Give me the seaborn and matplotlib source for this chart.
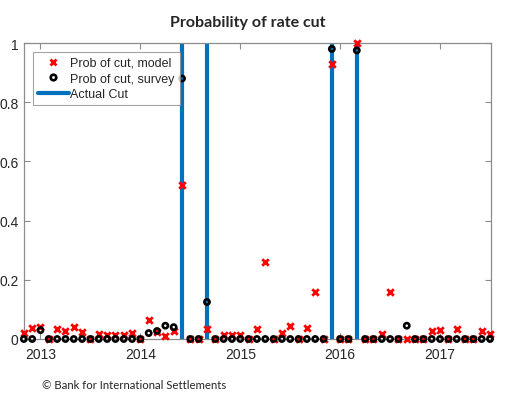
import matplotlib
matplotlib.use("Agg")
import matplotlib.pyplot as plt
import seaborn as sns
import pandas as pd
import numpy as np
from matplotlib.lines import Line2D

# Monthly observations, Nov 2012 .. Jul 2017
months = pd.date_range("2012-11-01", "2017-07-01", freq="MS")

model = [0.02, 0.037,                                     # Nov-Dec 2012
         0.04, 0.0, 0.033, 0.027, 0.04, 0.022, 0.0, 0.017, 0.012, 0.012, 0.012, 0.02,   # 2013
         0.0, 0.065, 0.022, 0.011, 0.028, 0.52, 0.0, 0.0, 0.035, 0.0, 0.015, 0.015,     # 2014
         0.015, 0.0, 0.035, 0.26, 0.0, 0.02, 0.043, 0.0, 0.037, 0.16, 0.0, 0.93,        # 2015
         0.0, 0.0, 1.0, 0.0, 0.0, 0.018, 0.16, 0.0, 0.0, 0.0, 0.0, 0.028,               # 2016
         0.032, 0.0, 0.035, 0.0, 0.0, 0.026, 0.018]                                     # 2017

survey = [0.0, 0.0,
          0.03, 0.0, 0.0, 0.0, 0.0, 0.0, 0.0, 0.0, 0.0, 0.0, 0.0, 0.0,
          0.0, 0.02, 0.027, 0.045, 0.04, 0.88, 0.0, 0.0, 0.125, 0.0, 0.0, 0.0,
          0.0, 0.0, 0.0, 0.0, 0.0, 0.0, 0.0, 0.0, 0.0, 0.0, 0.0, 0.98,
          0.0, 0.0, 0.975, 0.0, 0.0, 0.0, 0.0, 0.0, 0.045, 0.0, 0.0, 0.0,
          0.0, 0.0, 0.0, 0.0, 0.0, 0.0, 0.0]

cut_months = ["2014-06", "2014-09", "2015-12", "2016-03"]

year_ticks = [2013, 2014, 2015, 2016, 2017]
y_ticks = [0, 0.2, 0.4, 0.6, 0.8, 1.0]
y_tick_labels = ["0", "0.2", "0.4", "0.6", "0.8", "1"]


def dec_year(ts):
    return ts.year + (ts.month - 1) / 12.0


df = pd.DataFrame({"x": [dec_year(m) for m in months], "model": model, "survey": survey})
cut_x = [dec_year(pd.Timestamp(c + "-01")) for c in cut_months]

sns.set_style("white")
plt.rcParams["font.family"] = ["Liberation Sans", "DejaVu Sans"]

fig = plt.figure(figsize=(5.18, 4.02), dpi=100)
ax = fig.add_axes([24 / 518, 62 / 402, 467 / 518, 296 / 402])

blue = "#0072BD"
ax.vlines(cut_x, 0, 1, color=blue, linewidth=3, zorder=1)

sns.scatterplot(data=df, x="x", y="model", ax=ax, marker="x", color="#FF0000",
                s=22, linewidth=2, zorder=3, clip_on=False, legend=False)
sns.scatterplot(data=df, x="x", y="survey", ax=ax, marker="o", facecolor="none",
                edgecolor="black", s=14, linewidth=1.9, zorder=4, clip_on=False, legend=False)

ax.set_xlim(2012.835, 2017.51)
ax.set_ylim(0, 1)
ax.set_xticks(year_ticks)
ax.set_xticklabels([str(y) for y in year_ticks])
ax.set_yticks(y_ticks)
ax.set_yticklabels(y_tick_labels)
ax.set_xlabel("")
ax.set_ylabel("")

for s in ax.spines.values():
    s.set_visible(True)
    s.set_color("#8c8c8c")
    s.set_linewidth(0.9)

ax.tick_params(axis="both", direction="in", length=4, width=0.8, color="#8c8c8c",
               labelsize=10, labelcolor="#262626", top=True, right=True,
               bottom=True, left=True)
ax.tick_params(axis="x", pad=6)
ax.tick_params(axis="y", pad=4)

handles = [
    Line2D([], [], linestyle="none", marker="x", color="#FF0000", markersize=4.5, mew=2),
    Line2D([], [], linestyle="none", marker="o", markerfacecolor="none",
           markeredgecolor="black", markersize=4, mew=1.9),
    Line2D([], [], color=blue, linewidth=3),
]
labels = ["Prob of cut, model", "Prob of cut, survey", "Actual Cut"]
leg = ax.legend(handles, labels, loc="upper left", bbox_to_anchor=(0.019, 0.970),
                borderaxespad=0, frameon=True, fancybox=False, fontsize=9,
                handlelength=2.5, handletextpad=0.1, labelspacing=0.3,
                borderpad=0.4)
leg.get_frame().set_edgecolor("#8c8c8c")
leg.get_frame().set_linewidth(0.8)

fig.text(248 / 518, 1 - 23 / 402, "Probability of rate cut", ha="center", va="center",
         fontsize=11.5, fontweight="bold", family=["Lato", "DejaVu Sans"])
fig.text(42 / 518, 1 - 386 / 402, "\u00a9 Bank for International Settlements",
         ha="left", va="center", fontsize=8.2, family=["Lato", "DejaVu Sans"])

fig.savefig("out.png", dpi=100)
